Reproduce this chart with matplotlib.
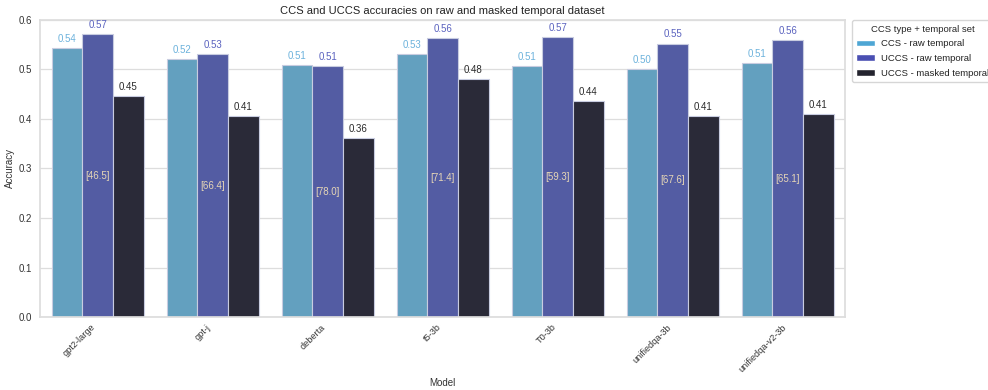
import matplotlib
matplotlib.use("Agg")
import matplotlib.pyplot as plt
import seaborn as sns
import numpy as np
from matplotlib.patches import Patch

models = ["gpt2-large", "gpt-j", "deberta", "t5-3b", "T0-3b", "unifiedqa-3b", "unifiedqa-v2-3b"]
series_names = ["CCS - raw temporal", "UCCS - raw temporal", "UCCS - masked temporal"]
ccs_raw = [0.543, 0.521, 0.509, 0.531, 0.506, 0.501, 0.513]
uccs_raw = [0.571, 0.531, 0.506, 0.563, 0.566, 0.552, 0.559]
uccs_masked = [0.446, 0.405, 0.361, 0.480, 0.436, 0.405, 0.409]
bracket_labels = ["[46.5]", "[66.4]", "[78.0]", "[71.4]", "[59.3]", "[67.6]", "[65.1]"]

sns.set_theme(style="whitegrid")
plt.rcParams['font.family'] = ['Liberation Sans', 'DejaVu Sans']

bar_colors = ["#63a0bf", "#535ca3", "#2a2a38"]
legend_colors = ["#4ea6d4", "#4a4fb2", "#23232e"]
text_colors = ["#6cb2dc", "#5a62bf", "#2a2a2a"]

fs = 7.0

fig = plt.figure(figsize=(9.88, 3.90), dpi=100)
ax = fig.add_axes([0.0405, 0.187, 0.815, 0.762])

x = np.arange(len(models))
w = 0.8 / 3
data = [ccs_raw, uccs_raw, uccs_masked]
containers = []
for i, (vals, c) in enumerate(zip(data, bar_colors)):
    bars = ax.bar(x + (i - 1) * w, vals, width=w, color=c, edgecolor="#c8cce0",
                  linewidth=0.8, label=series_names[i], zorder=2)
    containers.append(bars)
    ax.bar_label(bars, fmt="%.2f", padding=3, fontsize=fs, color=text_colors[i])

ax.bar_label(containers[1], labels=bracket_labels, label_type="center",
             fontsize=fs, color="#e6d6b6")

ax.set_xlim(-0.5, len(models) - 0.5)
ax.set_ylim(0, 0.6)
ax.set_yticks([0.0, 0.1, 0.2, 0.3, 0.4, 0.5, 0.6])
ax.set_xticks(x)
ax.set_xticklabels(models, rotation=45, ha="right", fontsize=6.6)
ax.tick_params(axis="y", labelsize=fs, length=0, pad=6, colors="#333333")
ax.tick_params(axis="x", length=0, pad=4, colors="#333333")
ax.set_xlabel("Model", fontsize=fs, labelpad=3, color="#333333")
ax.set_ylabel("Accuracy", fontsize=fs, labelpad=2, color="#333333")
ax.set_title("CCS and UCCS accuracies on raw and masked temporal dataset", fontsize=8, pad=4,
             color="#222222")
ax.grid(axis="x", visible=False)
ax.grid(axis="y", color="#dddddd", linewidth=0.9)
for s in ax.spines.values():
    s.set_color("#dddddd")

handles = [Patch(facecolor=c, label=n) for c, n in zip(legend_colors, series_names)]
leg = ax.legend(handles=handles, title="CCS type + temporal set", loc="upper left",
                bbox_to_anchor=(1.008, 1.0), fontsize=6.8, title_fontsize=6.8,
                frameon=True, borderaxespad=0.0, handlelength=2.0, handleheight=0.7,
                handletextpad=0.6, labelspacing=0.6, borderpad=0.5)
for t in leg.get_texts():
    t.set_color("#222222")

fig.savefig("out.png", dpi=100)
